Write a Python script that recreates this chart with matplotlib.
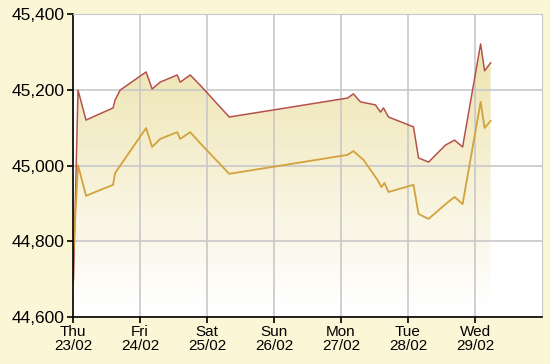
import numpy as np
import matplotlib.pyplot as plt
from matplotlib.colors import LinearSegmentedColormap
from matplotlib.patches import Polygon

plt.rcParams["font.family"] = ["Liberation Sans", "DejaVu Sans"]

# x = days since Thu 23/02 00:00
upper_x = [0.007, 0.075, 0.194, 0.598, 0.628, 0.703, 1.091, 1.181, 1.30, 1.555,
           1.60, 1.749, 1.898, 2.332, 4.096, 4.185, 4.29, 4.514, 4.589, 4.634,
           4.709, 5.082, 5.157, 5.307, 5.56, 5.695, 5.815, 6.084, 6.143, 6.233]
upper_y = [44698, 45199, 45120, 45152, 45173, 45199, 45247, 45202, 45220, 45239,
           45220, 45239, 45212, 45128, 45178, 45189, 45168, 45160, 45141, 45152,
           45128, 45102, 45020, 45009, 45054, 45067, 45049, 45321, 45250, 45271]

lower_x = [0.007, 0.075, 0.194, 0.598, 0.628, 1.091, 1.181, 1.30, 1.555, 1.60,
           1.749, 1.898, 2.332, 4.096, 4.185, 4.335, 4.544, 4.604, 4.649, 4.709,
           5.082, 5.157, 5.307, 5.56, 5.695, 5.815, 6.084, 6.143, 6.233]
lower_y = [44777, 45001, 44920, 44949, 44980, 45099, 45049, 45070, 45088, 45070,
           45088, 45059, 44978, 45028, 45038, 45015, 44962, 44943, 44954, 44930,
           44949, 44872, 44859, 44898, 44917, 44898, 45168, 45099, 45118]

day_labels = ["Thu\n23/02", "Fri\n24/02", "Sat\n25/02", "Sun\n26/02",
              "Mon\n27/02", "Tue\n28/02", "Wed\n29/02"]
y_ticks = [44600, 44800, 45000, 45200, 45400]

bg = "#FBF7D6"
fig = plt.figure(figsize=(5.5, 3.64), dpi=100, facecolor=bg)
ax = fig.add_axes([73 / 550, 1 - 317 / 364, 469 / 550, 303 / 364])
ax.set_facecolor("white")
ax.set_xlim(0, 7)
ax.set_ylim(44600, 45400)

# gradient fill under the upper line
cmap = LinearSegmentedColormap.from_list("fade", ["#FFFFFF", "#EDE2A8"])
grad = np.linspace(0, 1, 256).reshape(-1, 1)
img = ax.imshow(grad, cmap=cmap, aspect="auto", origin="lower",
                extent=[0, 7, 44630, 45300], alpha=0.9, zorder=1)
poly_pts = list(zip(upper_x, upper_y)) + [(upper_x[-1], 44600), (upper_x[0], 44600)]
clip = Polygon(poly_pts, closed=True, facecolor="none", edgecolor="none")
ax.add_patch(clip)
img.set_clip_path(clip)

ax.plot(upper_x, upper_y, color="#B5524E", lw=1.1, zorder=3)
ax.plot(lower_x, lower_y, color="#D2A23C", lw=1.3, zorder=3)

ax.set_xticks(range(7))
ax.set_xticklabels(day_labels, fontsize=11, linespacing=0.95)
ax.set_yticks(y_ticks)
ax.set_yticklabels([f"{v:,}" for v in y_ticks], fontsize=12.5)
ax.grid(True, color="#C8C8C8", lw=1.2, zorder=2)
for line in ax.get_xgridlines() + ax.get_ygridlines():
    line.set_zorder(2)

ax.spines["left"].set_color("black")
ax.spines["bottom"].set_color("black")
ax.spines["left"].set_linewidth(1.2)
ax.spines["bottom"].set_linewidth(1.2)
ax.spines["top"].set_color("#C8C8C8")
ax.spines["right"].set_color("#C8C8C8")
ax.tick_params(axis="both", length=4, width=1.2, color="black", pad=2)
for s in ax.spines.values():
    s.set_zorder(4)

fig.savefig("out.png", dpi=100, facecolor=bg)
